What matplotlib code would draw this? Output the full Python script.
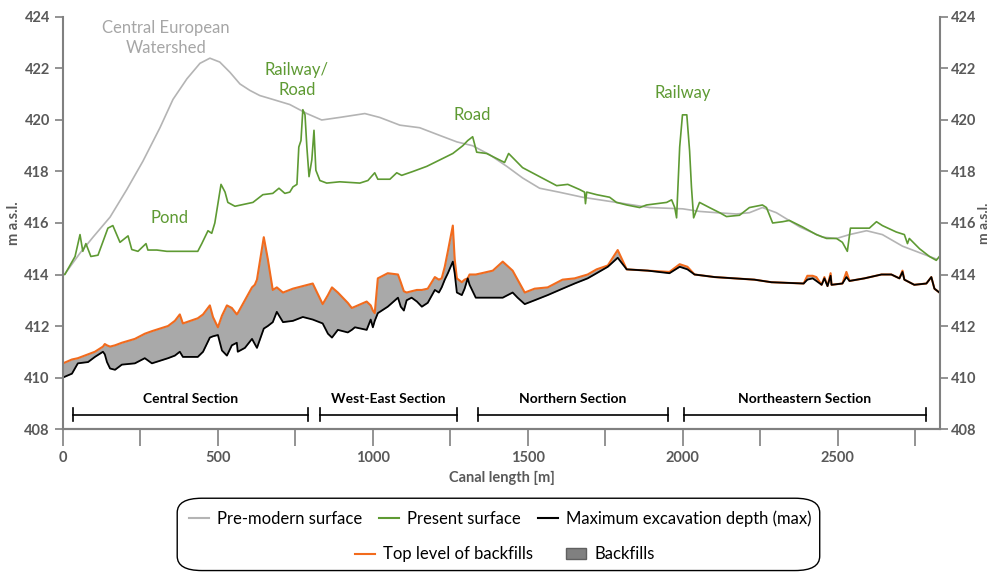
import matplotlib.pyplot as plt
from matplotlib.lines import Line2D
from matplotlib.patches import Patch, FancyBboxPatch

plt.rcParams['font.family'] = ['Lato', 'DejaVu Sans']

# pre-modern surface (grey)
pre_x = [0, 6, 55, 97, 152, 206, 258, 313, 355, 400, 442, 474, 506, 539, 571, 603, 635,
         677, 732, 787, 835, 893, 974, 1022, 1087, 1151, 1216, 1271, 1322, 1377, 1432,
         1483, 1538, 1600, 1677, 1786, 1893, 2000, 2054, 2109, 2173, 2215, 2257, 2302, 2377,
         2451, 2496, 2538, 2593, 2644, 2709, 2818]
pre_y = [414.0, 414.02, 414.83, 415.45, 416.23, 417.3, 418.4, 419.7, 420.8, 421.6, 422.2,
         422.4, 422.25, 421.85, 421.4, 421.15, 420.95, 420.8, 420.6, 420.25, 420.0, 420.1,
         420.25, 420.1, 419.8, 419.7, 419.4, 419.15, 419.0, 418.65, 418.2, 417.75, 417.35,
         417.2, 417.0, 416.8, 416.6, 416.55, 416.45, 416.4, 416.35, 416.4, 416.6, 416.4,
         415.85, 415.45, 415.4, 415.55, 415.7, 415.55, 415.1, 414.6]

# present surface (green)
now_x = [0, 6, 39, 55, 64, 74, 90, 113, 145, 161, 184, 210, 222, 242, 268, 274, 303, 335,
         377, 435, 448, 468, 480, 490, 510, 523, 532, 555, 613, 645, 677, 697, 716, 732, 742,
         755, 761, 768, 774, 781, 787, 794, 803, 810, 816, 829, 851, 893, 958, 984, 1006,
         1016, 1055, 1077, 1093, 1129, 1174, 1216, 1258, 1290, 1306, 1322, 1335, 1367, 1400,
         1425, 1438, 1483, 1538, 1593, 1629, 1667, 1683, 1686, 1690, 1722, 1764, 1786, 1819,
         1861, 1883, 1948, 1964, 1974, 1980, 1990, 1999, 2013, 2022, 2028, 2035, 2054, 2086,
         2119, 2141, 2183, 2215, 2257, 2270, 2290, 2322, 2344, 2386, 2431, 2464, 2496, 2515,
         2531, 2541, 2570, 2602, 2625, 2644, 2689, 2715, 2725, 2731, 2764, 2796, 2818, 2828]
now_y = [414.0, 414.0, 414.7, 415.55, 414.9, 415.2, 414.7, 414.75, 415.8, 415.9, 415.25,
         415.5, 414.97, 414.9, 415.2, 414.95, 414.95, 414.9, 414.9, 414.9, 415.2, 415.7,
         415.6, 416.0, 417.5, 417.2, 416.8, 416.65, 416.8, 417.1, 417.15, 417.35, 417.15,
         417.2, 417.4, 417.5, 418.95, 419.2, 420.4, 420.2, 418.95, 417.8, 418.45, 419.6,
         418.05, 417.65, 417.55, 417.6, 417.55, 417.65, 417.95, 417.7, 417.7, 417.95, 417.85,
         418.0, 418.2, 418.45, 418.7, 419.0, 419.2, 419.35, 418.75, 418.7, 418.5, 418.35,
         418.7, 418.15, 417.8, 417.45, 417.5, 417.3, 417.2, 416.75, 417.2, 417.1, 417.0,
         416.8, 416.7, 416.6, 416.7, 416.8, 416.9, 416.6, 416.2, 418.95, 420.2, 420.2, 418.8,
         417.4, 416.2, 416.8, 416.6, 416.4, 416.25, 416.3, 416.6, 416.7, 416.6, 416.0, 416.05,
         416.1, 415.85, 415.55, 415.4, 415.4, 415.25, 414.9, 415.8, 415.8, 415.8, 416.05,
         415.9, 415.65, 415.55, 415.2, 415.4, 415.0, 414.7, 414.55, 414.7]

# backfills: top level (orange) and maximum excavation depth (black)
fill_x = [0, 29, 48, 81, 103, 129, 135, 142, 152, 168, 190, 232, 264, 287, 339, 361, 377,
          387, 435, 452, 474, 484, 500, 513, 529, 545, 561, 564, 587, 610, 619, 626, 648, 661,
          677, 690, 710, 742, 774, 806, 838, 855, 868, 887, 919, 932, 942, 980, 993, 1000,
          1006, 1016, 1048, 1081, 1090, 1100, 1109, 1125, 1142, 1158, 1177, 1200, 1213, 1222,
          1232, 1242, 1258, 1264, 1271, 1287, 1296, 1306, 1312, 1332, 1351, 1387, 1419, 1451,
          1467, 1490, 1522, 1564, 1612, 1651, 1693, 1722, 1758, 1790, 1819, 1887, 1957, 1990,
          2015, 2038, 2103, 2167, 2231, 2286, 2390, 2402, 2419, 2431, 2448, 2457, 2467, 2477,
          2480, 2515, 2528, 2538, 2586, 2641, 2673, 2699, 2709, 2715, 2747, 2786, 2802, 2812,
          2828]
top_y = [410.55, 410.7, 410.75, 410.9, 411.0, 411.2, 411.3, 411.25, 411.2, 411.25, 411.35,
         411.5, 411.7, 411.8, 412.0, 412.2, 412.45, 412.1, 412.3, 412.45, 412.8, 412.35,
         411.95, 412.4, 412.8, 412.7, 412.45, 412.5, 413.0, 413.5, 413.6, 413.8, 415.45,
         414.6, 413.4, 413.5, 413.3, 413.45, 413.55, 413.65, 412.85, 413.2, 413.5, 413.3,
         412.9, 412.7, 412.75, 412.95, 412.8, 412.6, 412.5, 413.85, 414.05, 414.0, 413.7,
         413.35, 413.3, 413.35, 413.4, 413.4, 413.45, 413.9, 413.8, 413.85, 414.3, 414.9,
         415.9, 414.6, 413.85, 413.7, 413.8, 413.85, 414.0, 414.0, 414.05, 414.15, 414.5,
         414.15, 413.8, 413.3, 413.45, 413.5, 413.8, 413.85, 414.0, 414.2, 414.35, 414.95,
         414.2, 414.15, 414.1, 414.4, 414.3, 414.0, 413.9, 413.85, 413.8, 413.7, 413.65,
         413.95, 413.95, 413.9, 413.6, 413.9, 413.55, 414.05, 413.6, 413.65, 414.1, 413.75,
         413.85, 414.0, 414.0, 413.85, 414.15, 413.8, 413.6, 413.65, 413.9, 413.45, 413.3]
max_y = [410.0, 410.15, 410.55, 410.6, 410.8, 411.0, 410.9, 410.6, 410.35, 410.3, 410.5,
         410.55, 410.75, 410.55, 410.75, 410.85, 411.0, 410.8, 410.8, 411.0, 411.55, 411.6,
         411.65, 411.05, 410.85, 411.25, 411.35, 411.0, 411.15, 411.5, 411.3, 411.15, 411.9,
         412.0, 412.15, 412.55, 412.15, 412.2, 412.35, 412.25, 412.1, 411.7, 411.55, 411.85,
         411.75, 411.85, 411.95, 411.85, 412.25, 411.95, 412.2, 412.5, 412.75, 413.1, 412.75,
         412.6, 413.0, 413.1, 412.95, 412.75, 412.9, 413.4, 413.3, 413.5, 413.8, 414.05,
         414.5, 414.05, 413.3, 413.2, 413.45, 413.85, 413.6, 413.1, 413.1, 413.1, 413.1,
         413.3, 413.1, 412.85, 413.0, 413.2, 413.45, 413.65, 413.85, 414.05, 414.3, 414.65,
         414.2, 414.15, 414.05, 414.3, 414.2, 414.0, 413.9, 413.85, 413.8, 413.7, 413.65,
         413.8, 413.85, 413.75, 413.6, 413.85, 413.55, 413.95, 413.6, 413.65, 413.9, 413.75,
         413.85, 414.0, 414.0, 413.85, 414.1, 413.8, 413.6, 413.65, 413.9, 413.45, 413.3]

# canal sections
sec_names = ['Central Section', 'West-East Section', 'Northern Section', 'Northeastern Section']
sec_start = [32, 829, 1338, 2003]
sec_end = [790, 1271, 1951, 2786]

# labels on the profile
notes = [('Central European\nWatershed', 332, 423.2, '#a6a6a6'),
         ('Railway/\nRoad', 755, 421.55, '#5e9a33'),
         ('Road', 1319, 420.2, '#5e9a33'),
         ('Railway', 2000, 421.05, '#5e9a33'),
         ('Pond', 345, 416.2, '#5e9a33')]

c_pre = '#b4b4b4'
c_now = '#5e9a33'
c_top = '#f26b1d'
c_fill = '#a9a9a9'
c_axis = '#808080'
c_text = '#595959'

fig = plt.figure(figsize=(9.9, 5.74), dpi=100)
ax = fig.add_axes([0.0636, 0.2526, 0.8859, 0.7178])

ax.fill_between(fill_x, max_y, top_y, color=c_fill, lw=0)
ax.plot(pre_x, pre_y, color=c_pre, lw=1.2)
ax.plot(now_x, now_y, color=c_now, lw=1.2)
ax.plot(fill_x, top_y, color=c_top, lw=1.5)
ax.plot(fill_x, max_y, color='black', lw=1.3)

for txt, x, y, col in notes:
    ax.text(x, y, txt, color=col, fontsize=12, ha='center', va='center', linespacing=1.3)

for name, s, e in zip(sec_names, sec_start, sec_end):
    ax.plot([s, e], [408.55, 408.55], color='black', lw=1.2)
    ax.plot([s, s], [408.3, 408.8], color='black', lw=1.2)
    ax.plot([e, e], [408.3, 408.8], color='black', lw=1.2)
    ax.text((s + e) / 2, 408.95, name, fontsize=10, fontweight='bold', ha='center',
            va='bottom', color='black')

ax.set_xlim(0, 2830)
ax.set_ylim(408, 424)
ax.set_xticks(range(0, 2830, 500))
ax.set_xticks(range(250, 2830, 500), minor=True)
ax.set_yticks(range(408, 425, 2))

ax2 = ax.twinx()
ax2.set_ylim(408, 424)
ax2.set_yticks(range(408, 425, 2))

for a in (ax, ax2):
    a.spines['top'].set_visible(False)
    for sp in a.spines.values():
        sp.set_color(c_axis)
        sp.set_linewidth(1.5)
    a.tick_params(axis='y', colors=c_axis, length=6, width=1.2, labelcolor=c_text, labelsize=10.5)
    for lab in a.get_yticklabels():
        lab.set_fontweight('bold')
ax2.tick_params(axis='y', pad=2)
ax2.spines['left'].set_visible(False)
ax.spines['right'].set_visible(False)
ax.set_ylabel('m a.s.l.', color=c_text, fontsize=10.5, fontweight='bold', labelpad=2)
ax2.set_ylabel('m a.s.l.', color=c_text, fontsize=10, fontweight='bold', rotation=90,
               labelpad=1)

ax.tick_params(axis='x', which='both', colors=c_axis, length=12, width=1.2,
               labelcolor=c_text, labelsize=10.5, pad=4)
for lab in ax.get_xticklabels():
    lab.set_fontweight('bold')
ax.set_xlabel('Canal length [m]', color=c_text, fontsize=10.5, fontweight='bold', labelpad=4)

# legend in a rounded box, two rows
box = FancyBboxPatch((0.179, 0.006), 0.649, 0.126, boxstyle='round,pad=0,rounding_size=0.025',
                     transform=fig.transFigure, fc='white', ec='black', lw=1.0)
fig.patches.append(box)
row1 = [Line2D([], [], color=c_pre, lw=1.5), Line2D([], [], color=c_now, lw=1.5),
        Line2D([], [], color='black', lw=1.5)]
row2 = [Line2D([], [], color=c_top, lw=1.5), Patch(fc='#808080', ec='#606060')]
fig.legend(row1, ['Pre-modern surface', 'Present surface', 'Maximum excavation depth (max)'],
           loc='center', bbox_to_anchor=(0.505, 0.097), ncol=3, frameon=False,
           fontsize=12, handlelength=1.2, handletextpad=0.5, columnspacing=1.0)
fig.legend(row2, ['Top level of backfills', 'Backfills'],
           loc='center', bbox_to_anchor=(0.51, 0.034), ncol=2, frameon=False,
           fontsize=12, handlelength=1.2, handletextpad=0.5, columnspacing=2.0)

fig.savefig('out.png', dpi=100)
